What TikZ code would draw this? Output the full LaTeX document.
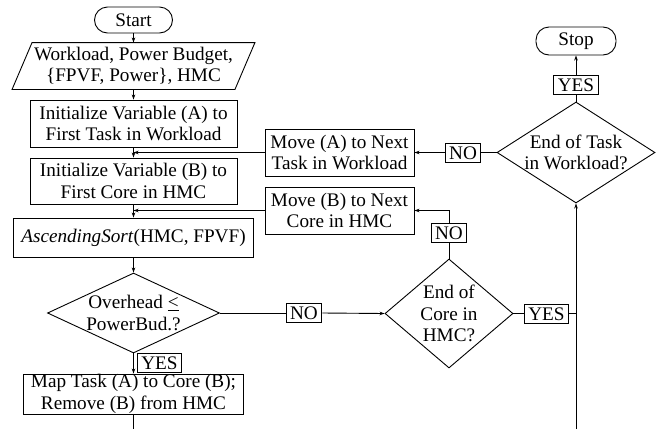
\documentclass[tikz,border=0pt]{standalone}
\usepackage{fontspec}
\setmainfont{Liberation Serif}
\usetikzlibrary{shapes.geometric,arrows.meta}
\newcommand\figfont{\fontsize{19.2}{21.5}\selectfont}
\begin{document}
\begin{tikzpicture}[x=1pt,y=-1pt,
  every node/.style={font=\figfont, line width=0.9pt},
  line width=0.9pt,
  box/.style={draw, rectangle, inner sep=0pt, align=center},
  term/.style={draw, rectangle, rounded corners=13pt, inner sep=0pt},
  dec/.style={draw, diamond, inner sep=0pt},
  tag/.style={draw, rectangle, fill=white, inner xsep=4pt, inner ysep=3pt, text height=13pt, text depth=0pt},
  arr/.style={-{Stealth[length=5pt,width=3.5pt]}}]
\useasboundingbox (0,0) rectangle (662,429);
% main column
\node[term, minimum width=78, minimum height=26] (start) at (133.5,20) {Start};
\node[inner sep=0pt, minimum width=222, minimum height=46, align=center] (input) at (133.5,66) {Workload, Power Budget,\\\{FPVF, Power\}, HMC};
\draw ([xshift=10pt]input.north west) -- ([xshift=10pt]input.north east) -- ([xshift=-10pt]input.south east) -- ([xshift=-10pt]input.south west) -- cycle;
\node[box, minimum width=207, minimum height=47] (initA) at (133.5,123.5) {Initialize Variable (A) to\\First Task in Workload};
\node[box, minimum width=207, minimum height=46] (initB) at (133.5,181) {Initialize Variable (B) to\\First Core in HMC};
\node[box, minimum width=240, minimum height=39] (sort) at (133.5,237.5) {\textit{AscendingSort}(HMC, FPVF)};
\node[dec, minimum width=172, minimum height=80, label={[align=center]center:Overhead \underline{<}\\PowerBud.?}] (dOver) at (133.5,313) {};
\node[box, minimum width=220, minimum height=40] (map) at (133.5,394) {Map Task (A) to Core (B);\\Remove (B) from HMC};
\node[tag] (yes1) at (159.5,363) {YES};
% right part
\node[box, minimum width=149, minimum height=47] (moveA) at (339.5,152.5) {Move (A) to Next\\Task in Workload};
\node[box, minimum width=149, minimum height=47] (moveB) at (339.5,210.5) {Move (B) to Next\\Core in HMC};
\node[dec, minimum width=158, minimum height=101, label={[align=center]center:End of Task\\in Workload?}] (dTask) at (576,152.5) {};
\node[term, minimum width=80, minimum height=28] (stop) at (576,41) {Stop};
\node[tag] (yes3) at (576,84.5) {YES};
\node[tag] (no1) at (463,152.5) {NO};
\node[dec, minimum width=128, minimum height=109, label={[align=center]center:End of\\Core in\\HMC?}] (dCore) at (449,313.5) {};
\node[tag] (no2) at (304,313) {NO};
\node[tag] (yes2) at (546.5,313.5) {YES};
\node[tag] (no3) at (449,233) {NO};
\coordinate (bot1) at (133.5,429);
\coordinate (bot2) at (576,429);
% connectors
\draw[arr] (start.south) -- (input.north);
\draw[arr] (input.south) -- (initA.north);
\draw[arr] (initA.south) -- (initB.north);
\draw[arr] (initB.south) -- (sort.north);
\draw[arr] (sort.south) -- (dOver.north);
\draw[arr] (dOver.south) -- (map.north);
\draw (map.south) -- (bot1);
\draw (dOver.east) -- (no2.west);
\draw[arr] (no2.east) -- (dCore.west);
\draw (dCore.north) -- (no3.south);
\draw[arr] (no3.north) |- (moveB.east);
\draw[arr] (moveB.west) -- (moveB.west -| sort.north);
\draw (dCore.east) -- (yes2.west);
\draw (yes2.east) -- (yes2.east -| bot2);
\draw[arr] (bot2) -- (dTask.south);
\draw (dTask.west) -- (no1.east);
\draw[arr] (no1.west) -- (moveA.east);
\draw[arr] (moveA.west) -- (moveA.west -| initA.south);
\draw (dTask.north) -- (yes3.south);
\draw[arr] (yes3.north) -- (stop.south);
\end{tikzpicture}
\end{document}
